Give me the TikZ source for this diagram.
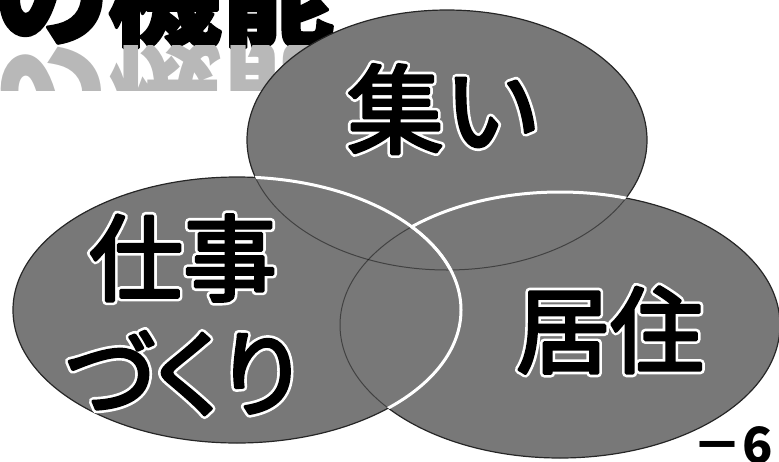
\documentclass[tikz,border=0pt]{standalone}
\usepackage{fontspec}
\newfontfamily\jpfont{Noto Sans CJK JP}
\newfontfamily\jppfont{Noto Sans CJK JP}[RawFeature=+palt]
\definecolor{ellgray}{gray}{0.47}
% white outline copy and emboldened black copy, drawn with the PDF text render mode
\newcommand\whiteoutline[2]{\special{pdf:literal direct 1 Tr #1 w 1 j 1 1 1 RG}#2\special{pdf:literal direct 0 Tr 1 w 0 0 0 RG}}
\newcommand\heavytext[2]{\special{pdf:literal direct 2 Tr #1 w 1 j 0 0 0 RG}#2\special{pdf:literal direct 0 Tr 1 w}}
\newcommand\haloed[1]{\rlap{\whiteoutline{8.5}{#1}}\heavytext{3.2}{#1}}
\tikzset{
  ellfill/.style={fill=ellgray},
  ellrim/.style={draw=black!85, line width=1.2pt},
  hiddenedge/.style={draw=black, line width=1pt, draw opacity=0.45},
  frontedge/.style={draw=white, line width=3pt},
  bigtext/.style={inner sep=0pt, text=black, font=\jpfont\fontsize{#1}{#1}\selectfont},
  titletext/.style={inner sep=0pt, font=\jpfont\bfseries\fontsize{113}{113}\selectfont},
}
\begin{document}
\begin{tikzpicture}[x=1pt,y=-1pt]
\useasboundingbox (0,0) rectangle (779,461);
\clip (0,0) rectangle (779,461);

% title and its reflection
\node[titletext, text=black, anchor=base west] (title) at (-5,37) {\heavytext{3}{の機能}};
\begin{scope}
  \clip (0,45) rectangle (330,90);
  \node[titletext, anchor=base west, yscale=-1, transform shape, text=black!28] (reflection) at (-5,53) {の機能};
\end{scope}

% top ellipse
\path[ellfill] (447,140) ellipse [x radius=200, y radius=130];
\path[ellrim] (447,140) ellipse [x radius=200, y radius=130];

% right ellipse
\path[ellfill] (560,325) ellipse [x radius=220, y radius=133];
\path[ellrim] (560,325) ellipse [x radius=220, y radius=133];
\begin{scope}
  \clip (560,325) ellipse [x radius=220, y radius=133];
  \path[hiddenedge] (447,140) ellipse [x radius=200, y radius=130];
\end{scope}
\begin{scope}
  \clip (447,140) ellipse [x radius=200, y radius=130];
  \path[frontedge] (560,325) ellipse [x radius=220, y radius=133];
\end{scope}

% left ellipse
\path[ellfill] (237,310) ellipse [x radius=224, y radius=133];
\path[ellrim] (237,310) ellipse [x radius=224, y radius=133];
\begin{scope}
  \clip (237,310) ellipse [x radius=224, y radius=133];
  \path[hiddenedge] (447,140) ellipse [x radius=200, y radius=130];
  \path[hiddenedge] (560,325) ellipse [x radius=220, y radius=133];
\end{scope}
\begin{scope}
  \clip (447,140) ellipse [x radius=200, y radius=130];
  \path[frontedge] (237,310) ellipse [x radius=224, y radius=133];
\end{scope}
\begin{scope}
  \clip (560,325) ellipse [x radius=220, y radius=133];
  \path[frontedge] (237,310) ellipse [x radius=224, y radius=133];
\end{scope}

% labels
\node[bigtext=97] (tsudoi) at (444,109) {\haloed{集い}};
\node[bigtext=94] (shigoto) at (183,258) {\haloed{仕事}};
\node[bigtext=94, font=\jppfont\fontsize{94}{94}\selectfont] (zukuri) at (182,373) {\haloed{づくり}};
\node[bigtext=94] (kyoju) at (610,330) {\haloed{居住}};

% page number
\node[titletext, font=\jpfont\bfseries\fontsize{50}{50}\selectfont, anchor=base west] (page) at (692,463) {－6－};
\end{tikzpicture}
\end{document}
